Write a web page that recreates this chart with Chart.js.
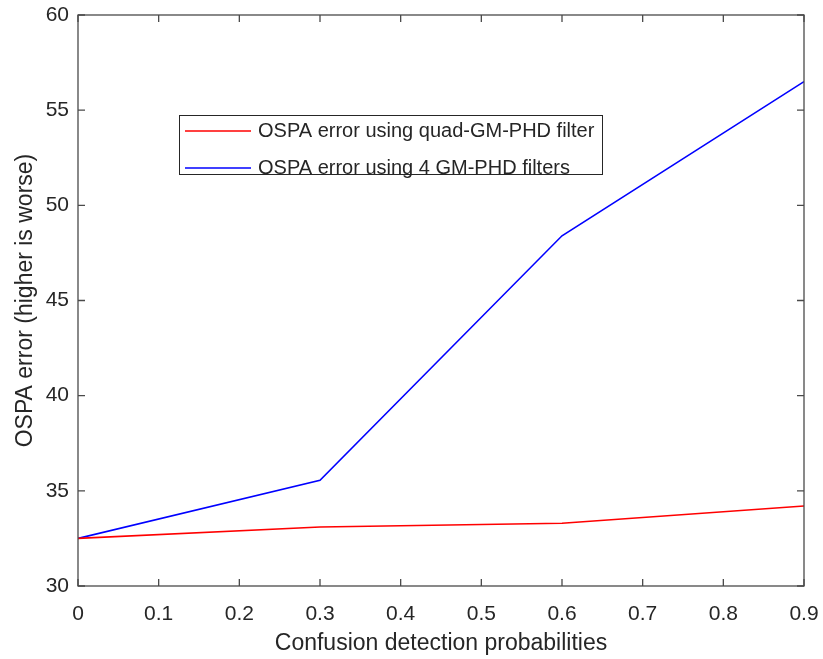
<!DOCTYPE html>
<html>
<head>
<meta charset="utf-8">
<script src="https://cdn.jsdelivr.net/npm/chart.js@4/dist/chart.umd.min.js"></script>
<style>
  body { margin: 0; background: #fff; }
  #wrap { width: 823px; height: 659px; }
</style>
</head>
<body>
<div id="wrap"><canvas id="ospaChart" width="823" height="659"></canvas></div>
<script>
// values
const probabilities = [0, 0.3, 0.6, 0.9];
const quadFilterError = [32.5, 33.1, 33.3, 34.2];
const fourFilterError = [32.5, 35.55, 48.4, 56.5];

const xTicks = [0, 0.1, 0.2, 0.3, 0.4, 0.5, 0.6, 0.7, 0.8, 0.9];
const yTicks = [30, 35, 40, 45, 50, 55, 60];

const seriesLabels = [
    'OSPA error using quad-GM-PHD filter',
    'OSPA error using 4 GM-PHD filters'
];

const FONT = "'Liberation Sans', Arial, Helvetica, sans-serif";
const TEXT = '#262626';
const AXIS = '#4a4a4a';

const toPoints = ys => probabilities.map((p, i) => ({ x: p, y: ys[i] }));

// matlab style box with inward ticks on all four sides
const boxTicks = {
    id: 'boxTicks',
    afterDraw(chart) {
        const { ctx, chartArea: a, scales: { x, y } } = chart;
        const len = 7;
        ctx.save();
        ctx.strokeStyle = AXIS;
        ctx.lineWidth = 1.3;
        ctx.strokeRect(a.left, a.top, a.right - a.left, a.bottom - a.top);
        ctx.beginPath();
        x.ticks.forEach(t => {
            const px = x.getPixelForValue(t.value);
            ctx.moveTo(px, a.bottom); ctx.lineTo(px, a.bottom - len);
            ctx.moveTo(px, a.top); ctx.lineTo(px, a.top + len);
        });
        y.ticks.forEach(t => {
            const py = y.getPixelForValue(t.value);
            ctx.moveTo(a.left, py); ctx.lineTo(a.left + len, py);
            ctx.moveTo(a.right, py); ctx.lineTo(a.right - len, py);
        });
        ctx.stroke();
        ctx.restore();
    }
};

// legend box sitting inside the axes, like matlab's
const boxLegend = {
    id: 'boxLegend',
    afterDraw(chart) {
        const { ctx, chartArea: a } = chart;
        const left = a.left + 101, top = a.top + 100;
        const w = 423, h = 59, row = 37;
        ctx.save();
        ctx.fillStyle = '#fff';
        ctx.fillRect(left, top, w, h);
        ctx.strokeStyle = TEXT;
        ctx.lineWidth = 1;
        ctx.strokeRect(left + 0.5, top + 0.5, w, h);
        ctx.font = '20px ' + FONT;
        ctx.textBaseline = 'middle';
        chart.data.datasets.forEach((ds, i) => {
            const cy = top + 16 + i * row;
            ctx.strokeStyle = ds.borderColor;
            ctx.lineWidth = 1.5;
            ctx.beginPath();
            ctx.moveTo(left + 6, cy);
            ctx.lineTo(left + 72, cy);
            ctx.stroke();
            ctx.fillStyle = TEXT;
            ctx.fillText(ds.label, left + 79, cy);
        });
        ctx.restore();
    }
};

new Chart(document.getElementById('ospaChart'), {
    type: 'line',
    data: {
        datasets: [{
            label: seriesLabels[0],
            data: toPoints(quadFilterError),
            borderColor: '#ff0000',
            borderWidth: 1.6,
            pointRadius: 0,
            tension: 0
        }, {
            label: seriesLabels[1],
            data: toPoints(fourFilterError),
            borderColor: '#0000ff',
            borderWidth: 1.6,
            pointRadius: 0,
            tension: 0
        }]
    },
    options: {
        responsive: false,
        animation: false,
        layout: { padding: { top: 15, right: 19, left: 0, bottom: 0 } },
        plugins: {
            legend: { display: false },
            tooltip: { enabled: false }
        },
        scales: {
            x: {
                type: 'linear',
                min: 0,
                max: 0.9,
                afterBuildTicks: s => { s.ticks = xTicks.map(v => ({ value: v })); },
                afterFit: s => { s.height = 73; s.paddingLeft = 0; s.paddingRight = 0; },
                grid: { display: false, drawTicks: false },
                border: { display: false },
                ticks: {
                    padding: 16,
                    color: TEXT,
                    font: { family: FONT, size: 21 },
                    maxRotation: 0,
                    callback: v => String(Number(v.toFixed(1)))
                },
                title: {
                    display: true,
                    text: 'Confusion detection probabilities',
                    color: TEXT,
                    font: { family: FONT, size: 23 },
                    padding: { top: 0, bottom: 2 }
                }
            },
            y: {
                min: 30,
                max: 60,
                afterBuildTicks: s => { s.ticks = yTicks.map(v => ({ value: v })); },
                afterFit: s => { s.width = 78; s.paddingTop = 0; s.paddingBottom = 0; },
                grid: { display: false, drawTicks: false },
                border: { display: false },
                ticks: {
                    padding: 9,
                    color: TEXT,
                    font: { family: FONT, size: 21 }
                },
                title: {
                    display: true,
                    text: 'OSPA error (higher is worse)',
                    color: TEXT,
                    font: { family: FONT, size: 23 },
                    padding: { top: 12, bottom: 0 }
                }
            }
        }
    },
    plugins: [boxTicks, boxLegend]
});
</script>
</body>
</html>
